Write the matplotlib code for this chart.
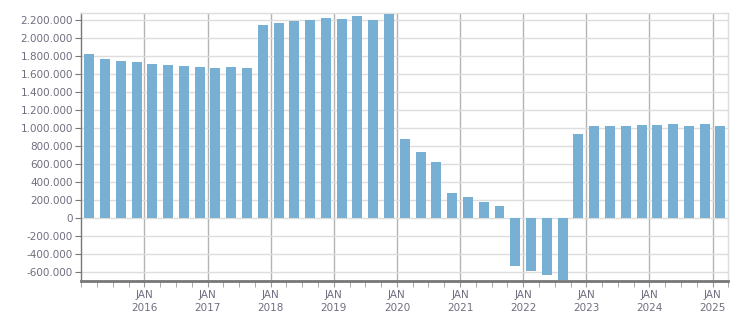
import matplotlib
matplotlib.use("Agg")
import matplotlib.pyplot as plt
from matplotlib.ticker import FuncFormatter, FixedLocator
import numpy as np

years = [2015]*4 + [y for y in range(2016, 2025) for _ in range(4)] + [2025]
quarters = [1, 2, 3, 4]*10 + [1]
values = [1828000, 1773000, 1750000, 1739000,
          1717000, 1706000, 1695000, 1683000,
          1672000, 1683000, 1672000, 2152000,
          2174000, 2196000, 2207000, 2230000,
          2218000, 2252000, 2207000, 2274000,
          881000, 736000, 624000, 279000,
          234000, 178000, 134000, -535000,
          -591000, -635000, -690000, 936000,
          1026000, 1026000, 1026000, 1037000,
          1037000, 1048000, 1026000, 1048000,
          1026000]
tick_years = list(range(2016, 2026))
tick_labels = [f"JAN\n{y}" for y in tick_years]

bar_color = "#78b0d3"
text_color = "#6e6e80"

x = [y + (q - 1) * 0.25 + 0.125 for y, q in zip(years, quarters)]

fig = plt.figure(figsize=(7.51, 3.13), dpi=100)
ax = fig.add_axes([0.1083, 0.1032, 0.8615, 0.8543])

ax.bar(x, values, width=0.158, color=bar_color, zorder=3)

ax.set_xlim(2015, 2025.25)
ax.set_ylim(-700000, 2280000)

yt = np.arange(-600000, 2200001, 200000)
ax.set_yticks(yt)
ax.yaxis.set_major_formatter(FuncFormatter(lambda v, p: f"{int(v):,}".replace(",", ".")))

ax.xaxis.set_major_locator(FixedLocator(tick_years))
ax.set_xticklabels(tick_labels)
ax.xaxis.set_minor_locator(FixedLocator([2015 + i*0.25 for i in range(42)]))

ax.grid(axis="y", color="#dddddd", linewidth=1, zorder=0)
ax.grid(axis="x", which="major", color="#b4b4b4", linewidth=1, zorder=1)

for s in ["top", "right"]:
    ax.spines[s].set_color("#dddddd")
    ax.spines[s].set_linewidth(1)
ax.spines["left"].set_color("#777777")
ax.spines["left"].set_linewidth(1)
ax.spines["bottom"].set_color("#777777")
ax.spines["bottom"].set_linewidth(2)

ax.tick_params(axis="y", direction="out", length=4, color="#777777", labelsize=7.5,
               labelcolor=text_color, pad=2)
ax.tick_params(axis="x", which="major", direction="out", length=4, color="#999999",
               labelsize=7.5, labelcolor=text_color, pad=3)
ax.tick_params(axis="x", which="minor", direction="out", length=4, color="#999999")
for lbl in ax.get_xticklabels():
    lbl.set_linespacing(1.3)

fig.savefig("out.png", dpi=100)
